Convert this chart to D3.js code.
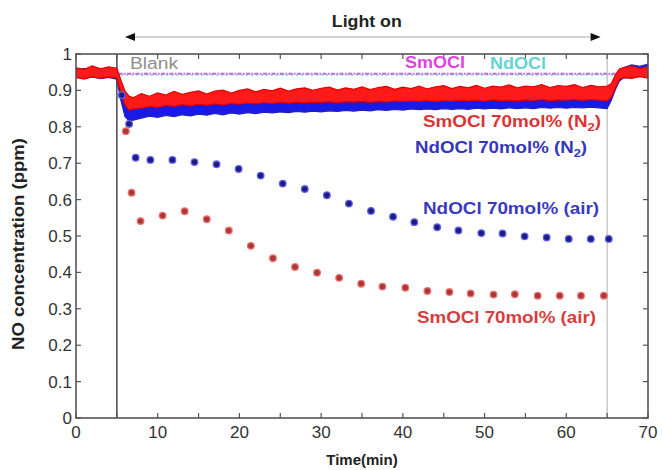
<!DOCTYPE html>
<html>
<head>
<meta charset="utf-8">
<script src="https://cdn.jsdelivr.net/npm/d3@7"></script>
<style>
  html, body { margin: 0; padding: 0; background: #fff; }
  svg { display: block; font-family: "Liberation Sans", Arial, sans-serif; }
</style>
</head>
<body>
<svg id="chart" width="662" height="470"></svg>
<script>
// ---- Data ---------------------------------------------------------------
// Continuous NO trace under N2 (upper / lower envelope of the noisy signal)
const bandTime = [0,1,2,3,4,5,5.5,6,6.5,7,8,9,10,11,12,13,14,15,16,17,18,19,20,
  21,22,23,24,25,26,27,28,29,30,31,32,33,34,35,36,37,38,39,40,41,42,43,44,45,46,
  47,48,49,50,51,52,53,54,55,56,57,58,59,60,61,62,63,64,65,65.5,66,66.5,67,68,69,70];

const smN2Hi = [.962,.958,.967,.959,.965,.961,.928,.898,.884,.880,.891,.884,.893,
  .887,.897,.889,.895,.899,.890,.898,.901,.893,.900,.904,.896,.903,.899,.906,.898,
  .904,.907,.900,.906,.909,.901,.907,.903,.910,.902,.908,.911,.903,.909,.905,.912,
  .904,.910,.913,.905,.911,.907,.914,.906,.912,.909,.915,.907,.912,.910,.916,.908,
  .913,.911,.916,.908,.914,.910,.912,.918,.942,.959,.963,.967,.960,.965];
const smN2Lo = [.936,.931,.938,.933,.937,.934,.893,.860,.846,.849,.851,.856,.853,
  .859,.856,.861,.857,.862,.859,.863,.860,.864,.862,.865,.863,.866,.864,.867,.865,
  .868,.866,.868,.867,.869,.866,.869,.868,.870,.867,.870,.868,.871,.869,.871,.870,
  .872,.869,.872,.870,.873,.871,.873,.870,.874,.872,.873,.871,.874,.872,.875,.872,
  .874,.873,.875,.872,.875,.873,.871,.881,.906,.931,.935,.933,.938,.934];

const ndN2Hi = [.956,.960,.954,.958,.955,.957,.900,.862,.848,.850,.856,.853,.860,
  .857,.863,.859,.865,.861,.866,.862,.868,.864,.869,.866,.870,.867,.871,.868,.872,
  .869,.873,.870,.874,.871,.875,.872,.876,.873,.876,.874,.877,.874,.878,.875,.878,
  .876,.879,.876,.879,.877,.880,.877,.880,.878,.881,.878,.881,.879,.882,.879,.882,
  .880,.883,.880,.883,.881,.882,.880,.906,.935,.955,.962,.970,.966,.972];
const ndN2Lo = [.936,.933,.937,.932,.936,.931,.872,.828,.816,.818,.824,.829,.826,
  .831,.828,.833,.830,.835,.832,.837,.833,.838,.835,.839,.836,.840,.838,.841,.839,
  .842,.840,.843,.841,.844,.842,.845,.843,.846,.844,.847,.845,.848,.846,.849,.847,
  .849,.847,.850,.848,.850,.848,.851,.849,.851,.849,.852,.850,.852,.850,.853,.851,
  .853,.851,.853,.852,.854,.852,.850,.872,.902,.926,.934,.936,.939,.937];

// Sampled NO concentration in air
const ndAirTime  = [5.6,6.5,7.3,9.1,11.8,14.5,17.2,19.9,22.6,25.3,28.0,30.7,33.4,
  36.1,38.8,41.4,44.2,46.8,49.6,52.2,54.9,57.6,60.3,63.0,65.2];
const ndAirValue = [0.887,0.808,0.715,0.709,0.709,0.703,0.697,0.684,0.666,0.644,
  0.629,0.612,0.589,0.569,0.553,0.538,0.524,0.515,0.508,0.507,0.499,0.496,0.492,
  0.492,0.492];

const smAirTime  = [6.1,6.8,7.9,10.6,13.3,16.0,18.7,21.4,24.1,26.8,29.5,32.2,34.9,
  37.5,40.3,43.0,45.7,48.3,51.1,53.7,56.5,59.2,61.8,64.6];
const smAirValue = [0.788,0.619,0.541,0.556,0.568,0.546,0.515,0.473,0.439,0.415,
  0.399,0.385,0.369,0.361,0.358,0.349,0.346,0.342,0.339,0.340,0.336,0.336,0.336,
  0.336];

// Blank runs (no catalyst / pure oxychlorides)
const blankTime = [0, 70];
const blankValue = [0.944, 0.944];
const smBlankValue = [0.946, 0.946];
const ndBlankValue = [0.942, 0.942];

// Light switched on/off, and the light-on arrow span
const lampOnOff = [5, 65];
const arrowSpan = [6, 64.2];

const xTicks = [0,5,10,15,20,25,30,35,40,45,50,55,60,65,70];
const xTickLabels = [0,10,20,30,40,50,60,70];
const yTicks = [0,0.1,0.2,0.3,0.4,0.5,0.6,0.7,0.8,0.9,1];

// ---- Layout -------------------------------------------------------------
const margin = {left: 76, top: 54, right: 14, bottom: 52};
const W = 662, H = 470;
const iw = W - margin.left - margin.right;
const ih = H - margin.top - margin.bottom;

const svg = d3.select("#chart");
const g = svg.append("g").attr("transform", `translate(${margin.left},${margin.top})`);

const x = d3.scaleLinear().domain([0, 70]).range([0, iw]);
const y = d3.scaleLinear().domain([0, 1]).range([ih, 0]);

svg.append("defs").append("clipPath").attr("id", "plotClip")
  .append("rect").attr("width", iw).attr("height", ih);

const plot = g.append("g").attr("clip-path", "url(#plotClip)");

// Lamp on / off markers
plot.append("line")
  .attr("x1", x(lampOnOff[0])).attr("x2", x(lampOnOff[0]))
  .attr("y1", 0).attr("y2", ih)
  .attr("stroke", "#555").attr("stroke-width", 1.6);
plot.append("line")
  .attr("x1", x(lampOnOff[1])).attr("x2", x(lampOnOff[1]))
  .attr("y1", 0).attr("y2", ih)
  .attr("stroke", "#bdbdbd").attr("stroke-width", 1.2);

// Blank lines
const blankLine = (vals) => d3.line().x((d, i) => x(blankTime[i])).y((d, i) => y(vals[i]));
plot.append("path").attr("d", blankLine(blankValue)(blankValue))
  .attr("fill", "none").attr("stroke", "#c8c8c8").attr("stroke-width", 1);
plot.append("path").attr("d", blankLine(ndBlankValue)(ndBlankValue))
  .attr("fill", "none").attr("stroke", "#70d8d8").attr("stroke-width", 1.4)
  .attr("stroke-dasharray", "2,3");
plot.append("path").attr("d", blankLine(smBlankValue)(smBlankValue))
  .attr("fill", "none").attr("stroke", "#c860e0").attr("stroke-width", 1.6)
  .attr("stroke-dasharray", "4,1.5,1.5,1.5");

// N2 traces as envelope bands
function band(hi, lo, color, edge) {
  const area = d3.area()
    .x((d, i) => x(bandTime[i]))
    .y0((d, i) => y(lo[i]))
    .y1((d, i) => y(hi[i]));
  plot.append("path").attr("d", area(bandTime))
    .attr("fill", color).attr("stroke", edge).attr("stroke-width", 1.2)
    .attr("stroke-linejoin", "miter");
}
band(ndN2Hi, ndN2Lo, "#1a1ae6", "#2020c0");
band(smN2Hi, smN2Lo, "#ff1a1a", "#e00000");

// Air samples
function dots(ts, vs, fill, halo) {
  plot.append("g").selectAll("circle")
    .data(vs).join("circle")
    .attr("cx", (d, i) => x(ts[i]))
    .attr("cy", d => y(d))
    .attr("r", 3.3)
    .attr("fill", fill)
    .attr("stroke", halo).attr("stroke-width", 1.3);
}
dots(ndAirTime, ndAirValue, "#1c1c80", "#6060f0");
dots(smAirTime, smAirValue, "#a83838", "#f07070");

// ---- Axes (box with inward ticks) --------------------------------------
const axisColor = "#555";
g.append("rect").attr("width", iw).attr("height", ih)
  .attr("fill", "none").attr("stroke", axisColor).attr("stroke-width", 1.6);

const tickLen = 5;
xTicks.forEach(t => {
  g.append("line").attr("x1", x(t)).attr("x2", x(t)).attr("y1", ih).attr("y2", ih - tickLen)
    .attr("stroke", axisColor).attr("stroke-width", 1.2);
  g.append("line").attr("x1", x(t)).attr("x2", x(t)).attr("y1", 0).attr("y2", tickLen)
    .attr("stroke", axisColor).attr("stroke-width", 1.2);
});
yTicks.forEach(t => {
  g.append("line").attr("x1", 0).attr("x2", tickLen).attr("y1", y(t)).attr("y2", y(t))
    .attr("stroke", axisColor).attr("stroke-width", 1.2);
  g.append("line").attr("x1", iw).attr("x2", iw - tickLen).attr("y1", y(t)).attr("y2", y(t))
    .attr("stroke", axisColor).attr("stroke-width", 1.2);
});

const tickFont = 17;
g.append("g").selectAll("text").data(xTickLabels).join("text")
  .attr("x", d => x(d)).attr("y", ih + 20)
  .attr("text-anchor", "middle")
  .attr("font-size", tickFont).attr("fill", "#333")
  .text(d => d);
g.append("g").selectAll("text").data(yTicks).join("text")
  .attr("x", -4).attr("y", d => y(d) + 6)
  .attr("text-anchor", "end")
  .attr("font-size", tickFont).attr("fill", "#333")
  .text(d => d);

// Axis titles
svg.append("text").attr("x", margin.left + x(35)).attr("y", 465)
  .attr("text-anchor", "middle").attr("font-size", 15).attr("font-weight", "bold")
  .attr("fill", "#222").text("Time(min)");
svg.append("text")
  .attr("transform", `translate(24,${margin.top + ih / 2 + 8}) rotate(-90)`)
  .attr("text-anchor", "middle").attr("font-size", 16).attr("font-weight", "bold")
  .attr("textLength", 212).attr("lengthAdjust", "spacingAndGlyphs")
  .attr("fill", "#222").text("NO concentration  (ppm)");

// Light-on arrow
const ay = 37;
const ax0 = margin.left + x(arrowSpan[0]);
const ax1 = margin.left + x(arrowSpan[1]);
svg.append("line").attr("x1", ax0 + 6).attr("x2", ax1 - 6).attr("y1", ay).attr("y2", ay)
  .attr("stroke", "#d4d4d4").attr("stroke-width", 2);
svg.append("path").attr("d", `M${ax0},${ay} L${ax0 + 10},${ay - 4} L${ax0 + 10},${ay + 4} Z`)
  .attr("fill", "#111");
svg.append("path").attr("d", `M${ax1},${ay} L${ax1 - 10},${ay - 4} L${ax1 - 10},${ay + 4} Z`)
  .attr("fill", "#111");
svg.append("text").attr("x", (ax0 + ax1) / 2 + 4).attr("y", 27)
  .attr("text-anchor", "middle").attr("font-size", 16).attr("font-weight", "bold")
  .attr("textLength", 70).attr("lengthAdjust", "spacingAndGlyphs")
  .attr("fill", "#222").text("Light on");

// Series labels (stretched to the printed width)
function label(px, py, txt, color, len, sub, tail) {
  const t = svg.append("text").attr("x", px).attr("y", py)
    .attr("font-size", 16).attr("font-weight", "bold").attr("fill", color);
  if (sub) {
    t.append("tspan").text(txt);
    t.append("tspan").attr("font-size", 11).attr("dy", 4).text(sub);
    t.append("tspan").attr("dy", -4).text(tail);
  } else {
    t.text(txt);
  }
  if (len) t.attr("textLength", len).attr("lengthAdjust", "spacingAndGlyphs");
  return t;
}
label(130, 69, "Blank", "#8e8e8e", 48).attr("font-weight", "normal");
label(405, 68, "SmOCl", "#dd44dd", 60);
label(490, 69, "NdOCl", "#66d4d4", 56);
label(423, 127, "SmOCl 70mol% (N", "#dd3333", 178, "2", ")");
label(415, 153, "NdOCl 70mol% (N", "#3535c0", 172, "2", ")");
label(423, 214, "NdOCl 70mol% (air)", "#3a3ac0", 176);
label(417, 323, "SmOCl 70mol% (air)", "#d83c3c", 179);
</script>
</body>
</html>
